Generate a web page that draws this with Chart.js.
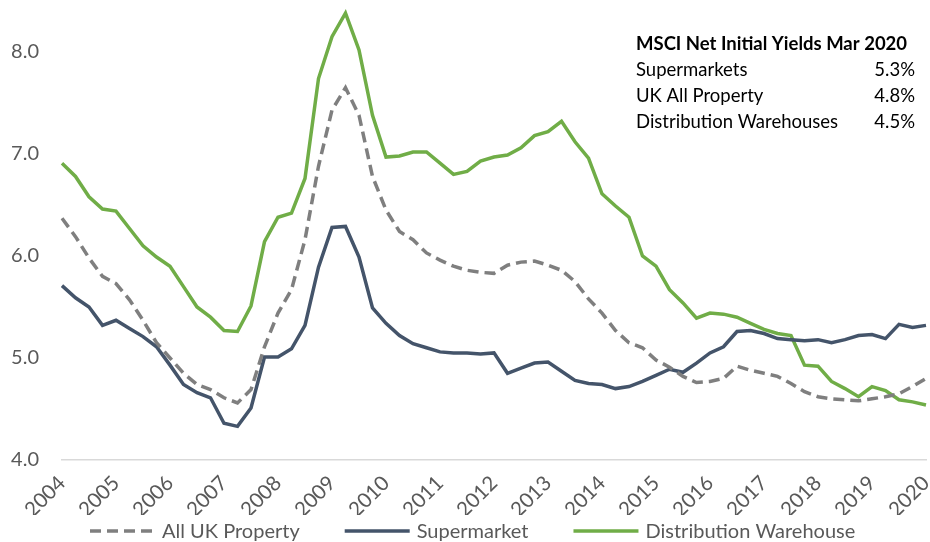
<!DOCTYPE html>
<html>
<head>
<meta charset="utf-8">
<script src="https://cdn.jsdelivr.net/npm/chart.js@4.4.1/dist/chart.umd.min.js"></script>
<style>
  html, body { margin: 0; padding: 0; background: #ffffff; }
  #wrap { width: 930px; height: 542px; }
</style>
</head>
<body>
<div id="wrap"><canvas id="chart" width="930" height="542"></canvas></div>
<script>
const YEARS = ["2004", "2005", "2006", "2007", "2008", "2009", "2010", "2011", "2012",
  "2013", "2014", "2015", "2016", "2017", "2018", "2019", "2020"];

// quarterly points, 2004 Q1 .. 2020 Q1
const QUARTERS = [];
YEARS.forEach((year) => {
  ["Q1", "Q2", "Q3", "Q4"].forEach((q) => QUARTERS.push(year + " " + q));
});
QUARTERS.length = 65;

const allUkProperty = [
  6.37, 6.19, 5.98, 5.80, 5.73, 5.57, 5.37, 5.15, 5.00, 4.85, 4.74, 4.69, 4.61, 4.56, 4.69, 5.11,
  5.44, 5.67, 6.16, 6.88, 7.43, 7.65, 7.38, 6.78, 6.45, 6.24, 6.16, 6.03, 5.96, 5.90, 5.86, 5.84,
  5.83, 5.91, 5.94, 5.95, 5.91, 5.86, 5.75, 5.58, 5.44, 5.27, 5.15, 5.10, 4.98, 4.91, 4.82, 4.76,
  4.77, 4.80, 4.92, 4.88, 4.85, 4.82, 4.75, 4.67, 4.62, 4.60, 4.59, 4.58, 4.60, 4.62, 4.65, 4.72,
  4.80
];

const supermarket = [
  5.71, 5.59, 5.50, 5.32, 5.37, 5.29, 5.21, 5.11, 4.93, 4.74, 4.66, 4.61, 4.36, 4.33, 4.51, 5.01,
  5.01, 5.09, 5.32, 5.89, 6.28, 6.29, 5.99, 5.49, 5.34, 5.22, 5.14, 5.10, 5.06, 5.05, 5.05, 5.04,
  5.05, 4.85, 4.90, 4.95, 4.96, 4.87, 4.78, 4.75, 4.74, 4.70, 4.72, 4.77, 4.83, 4.89, 4.86, 4.95,
  5.05, 5.11, 5.26, 5.27, 5.24, 5.19, 5.18, 5.17, 5.18, 5.15, 5.18, 5.22, 5.23, 5.19, 5.33, 5.30,
  5.32
];

const distributionWarehouse = [
  6.91, 6.78, 6.58, 6.46, 6.44, 6.27, 6.10, 5.99, 5.90, 5.70, 5.50, 5.40, 5.27, 5.26, 5.51, 6.14,
  6.38, 6.42, 6.76, 7.74, 8.15, 8.38, 8.02, 7.38, 6.97, 6.98, 7.02, 7.02, 6.91, 6.80, 6.83, 6.93,
  6.97, 6.99, 7.06, 7.18, 7.22, 7.32, 7.12, 6.96, 6.61, 6.49, 6.38, 6.00, 5.90, 5.67, 5.54, 5.39,
  5.44, 5.43, 5.40, 5.34, 5.28, 5.24, 5.22, 4.93, 4.92, 4.77, 4.70, 4.62, 4.72, 4.68, 4.59, 4.57,
  4.54
];

const NOTE_TITLE = "MSCI Net Initial Yields Mar 2020";
const NOTE_ROWS = [
  ["Supermarkets", "5.3%"],
  ["UK All Property", "4.8%"],
  ["Distribution Warehouses", "4.5%"],
];

const FONT = "Lato, 'Noto Sans', sans-serif";
const TEXT_GREY = "#595959";

const notePlugin = {
  id: "yieldNote",
  afterDraw(chart) {
    const { ctx } = chart;
    ctx.save();
    ctx.fillStyle = "#000000";
    ctx.textBaseline = "middle";
    ctx.textAlign = "left";
    ctx.font = "bold 18.5px " + FONT;
    ctx.fillText(NOTE_TITLE, 636, 44);
    ctx.font = "18.5px " + FONT;
    NOTE_ROWS.forEach((row, i) => {
      const y = 70 + i * 26;
      ctx.textAlign = "left";
      ctx.fillText(row[0], 636, y);
      ctx.textAlign = "right";
      ctx.fillText(row[1], 915, y);
    });
    ctx.restore();
  },
};

// legend drawn by hand so the spacing matches: sample line, gap, text, wide gap
const legendPlugin = {
  id: "lineLegend",
  afterDraw(chart) {
    const { ctx } = chart;
    const sample = 65;
    const textGap = 7;
    const itemGap = 45;
    const y = 531;
    ctx.save();
    ctx.font = "20px " + FONT;
    let x = 90;
    chart.data.datasets.forEach((ds) => {
      ctx.strokeStyle = ds.borderColor;
      ctx.lineWidth = ds.borderWidth;
      ctx.setLineDash(ds.borderDash || []);
      ctx.beginPath();
      ctx.moveTo(x, y);
      ctx.lineTo(x + sample, y);
      ctx.stroke();
      ctx.setLineDash([]);
      ctx.fillStyle = TEXT_GREY;
      ctx.textAlign = "left";
      ctx.textBaseline = "middle";
      ctx.fillText(ds.label, x + sample + textGap, y + 1);
      x += sample + textGap + ctx.measureText(ds.label).width + itemGap;
    });
    ctx.restore();
  },
};

new Chart(document.getElementById("chart"), {
  type: "line",
  data: {
    labels: QUARTERS,
    datasets: [
      {
        label: "All UK Property",
        data: allUkProperty,
        borderColor: "#7f7f7f",
        backgroundColor: "#7f7f7f",
        borderWidth: 3.5,
        borderDash: [11, 6],
        pointRadius: 0,
        tension: 0,
      },
      {
        label: "Supermarket",
        data: supermarket,
        borderColor: "#44546a",
        backgroundColor: "#44546a",
        borderWidth: 3.5,
        pointRadius: 0,
        tension: 0,
      },
      {
        label: "Distribution Warehouse",
        data: distributionWarehouse,
        borderColor: "#70ad47",
        backgroundColor: "#70ad47",
        borderWidth: 3.5,
        pointRadius: 0,
        tension: 0,
      },
    ],
  },
  options: {
    responsive: false,
    animation: false,
    layout: { padding: { left: 0, right: 4, top: 1, bottom: 27 } },
    scales: {
      x: {
        offset: false,
        grid: { display: false, drawTicks: false },
        border: { display: true, color: "#d9d9d9", width: 1.5 },
        afterFit(scale) {
          scale.paddingRight = 0;
          scale.paddingLeft = 0;
          scale.height = 55;
        },
        ticks: {
          autoSkip: false,
          maxRotation: 45,
          minRotation: 45,
          padding: 11,
          color: TEXT_GREY,
          font: { family: FONT, size: 20.5 },
          callback(value, index) {
            return index % 4 === 0 ? this.getLabelForValue(value).slice(0, 4) : "";
          },
        },
      },
      y: {
        min: 4,
        max: 8.5,
        grid: { display: false, drawTicks: false },
        border: { display: false },
        afterBuildTicks(axis) {
          axis.ticks = axis.ticks.filter((t) => Number.isInteger(t.value));
        },
        afterFit(scale) {
          scale.paddingTop = 0;
          scale.width = 62;
        },
        ticks: {
          stepSize: 1,
          padding: 23,
          color: TEXT_GREY,
          font: { family: FONT, size: 20 },
          callback(value) {
            return Number(value).toFixed(1);
          },
        },
      },
    },
    plugins: {
      legend: { display: false },
      tooltip: { enabled: false },
    },
  },
  plugins: [notePlugin, legendPlugin],
});
</script>
</body>
</html>
